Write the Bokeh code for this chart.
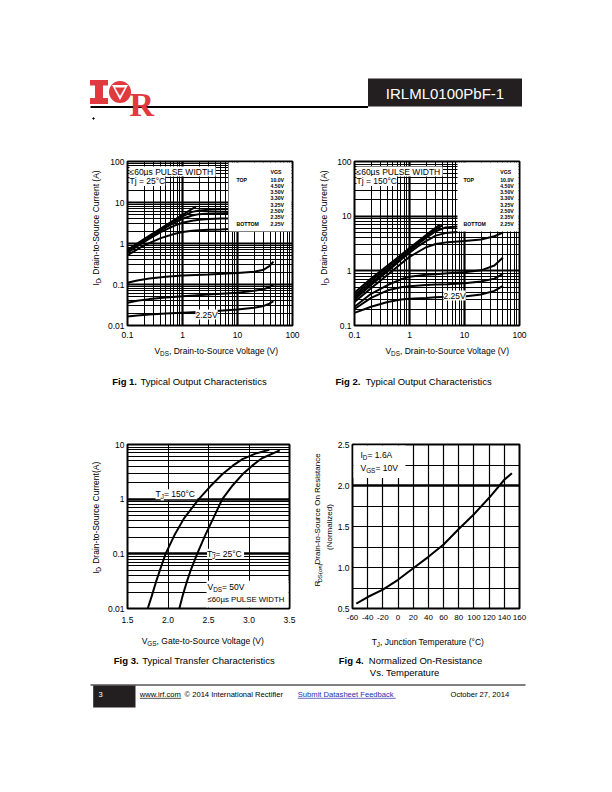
import math
from bokeh.plotting import figure
from bokeh.models import (Range1d, Label, FixedTicker, CustomJSTickFormatter,
                          NumeralTickFormatter, Span)
from bokeh.layouts import column, row
from bokeh.embed import file_html
from bokeh.resources import INLINE

FONT = "Liberation Sans"
RED = "#e03a3e"

# ---------------- data ----------------
VGS_LABELS = ["10.0V", "4.50V", "3.50V", "3.30V", "3.25V", "2.50V", "2.35V", "2.25V"]

# Fig 1, Tj = 25 C
F1_10V_VDS = [0.1, 0.2, 0.4, 0.7, 1.0, 1.4, 1.75]
F1_10V_ID = [0.70, 1.28, 2.30, 3.70, 5.00, 6.60, 7.90]
F1_HI_VDS = [0.1, 0.2, 0.4, 0.7, 1.0, 1.5, 2.0, 3.0, 5.0, 7.0]
F1_4V50_ID = [0.66, 1.22, 2.20, 3.50, 4.60, 5.90, 6.40, 6.70, 6.80, 6.85]
F1_3V50_ID = [0.63, 1.17, 2.10, 3.20, 4.00, 4.80, 5.20, 5.40, 5.50, 5.55]
F1_3V30_ID = [0.60, 1.10, 1.90, 2.70, 3.20, 3.60, 3.80, 3.95, 4.05, 4.10]
F1_3V25_ID = [0.52, 0.90, 1.35, 1.70, 1.90, 2.05, 2.10, 2.15, 2.20, 2.25]
F1_LO_VDS = [0.1, 0.15, 0.25, 0.5, 1.0, 3.0, 10.0, 20.0, 30.0, 38.0, 45.0]
F1_2V50_ID = [0.110, 0.125, 0.140, 0.155, 0.165, 0.175, 0.190, 0.205, 0.230, 0.280, 0.360]
F1_2V35_ID = [0.036, 0.040, 0.044, 0.048, 0.052, 0.057, 0.063, 0.070, 0.077, 0.086, 0.100]
F1_2V25_ID = [0.0165, 0.0175, 0.0185, 0.0195, 0.0205, 0.0220, 0.0245, 0.0270, 0.0300, 0.0340, 0.0390]

# Fig 2, Tj = 150 C
F2_10V_VDS = [0.1, 0.2, 0.4, 0.7, 1.0, 1.5, 2.0, 2.7, 3.6]
F2_10V_ID = [0.40, 0.72, 1.25, 1.95, 2.60, 3.60, 4.50, 5.70, 7.00]
F2_4V50_VDS = [0.1, 0.2, 0.4, 0.7, 1.0, 1.5, 2.0, 2.8, 3.9]
F2_4V50_ID = [0.36, 0.66, 1.15, 1.85, 2.45, 3.40, 4.30, 5.50, 6.70]
F2_MID_VDS = [0.1, 0.2, 0.4, 0.7, 1.0, 1.5, 2.0, 3.0, 4.5, 7.5]
F2_3V50_ID = [0.33, 0.60, 1.05, 1.70, 2.30, 3.20, 4.00, 5.30, 6.20, 6.50]
F2_3V30_ID = [0.30, 0.55, 0.98, 1.60, 2.15, 2.90, 3.50, 4.40, 4.90, 5.15]
F2_LO_VDS = [0.1, 0.2, 0.4, 0.7, 1.0, 2.0, 3.0, 5.0, 10.0, 20.0, 35.0, 50.0]
F2_3V25_ID = [0.27, 0.48, 0.85, 1.35, 1.80, 2.70, 3.10, 3.35, 3.50, 3.75, 4.30, 5.00]
F2_2V50_ID = [0.22, 0.38, 0.55, 0.70, 0.78, 0.85, 0.87, 0.90, 0.94, 1.02, 1.25, 1.75]
F2_2V35_ID = [0.20, 0.32, 0.44, 0.50, 0.52, 0.55, 0.56, 0.57, 0.59, 0.64, 0.72, 0.88]
F2_2V25_ID = [0.17, 0.22, 0.27, 0.30, 0.31, 0.32, 0.33, 0.335, 0.34, 0.37, 0.43, 0.53]

# Fig 3, transfer characteristics
F3_150_VGS = [1.75, 1.80, 1.85, 1.90, 1.97, 2.08, 2.20, 2.38, 2.52, 2.67, 2.80, 2.92, 3.08, 3.25]
F3_150_ID = [0.01, 0.017, 0.03, 0.05, 0.10, 0.22, 0.45, 1.0, 1.7, 2.85, 4.1, 5.4, 6.8, 8.0]
F3_25_VGS = [2.14, 2.18, 2.23, 2.28, 2.36, 2.46, 2.56, 2.67, 2.80, 2.92, 3.04, 3.16, 3.38]
F3_25_ID = [0.01, 0.017, 0.03, 0.05, 0.10, 0.22, 0.45, 1.0, 1.8, 2.85, 4.1, 5.6, 7.8]

# Fig 4, normalized on-resistance
F4_TJ = [-55, -40, -20, 0, 20, 40, 60, 80, 100, 120, 140, 150]
F4_RDS = [0.56, 0.64, 0.73, 0.85, 0.99, 1.13, 1.28, 1.47, 1.65, 1.85, 2.07, 2.15]

# tick values
LOG_TICKS_F1 = [0.01, 0.1, 1, 10, 100]
LOG_TICKS_X = [0.1, 1, 10, 100]
LOG_TICKS_F2 = [0.1, 1, 10, 100]
LOG_TICKS_F3 = [0.01, 0.1, 1, 10]
F3_X_TICKS = [1.5, 2.0, 2.5, 3.0, 3.5]
F4_X_TICKS = [-60, -40, -20, 0, 20, 40, 60, 80, 100, 120, 140, 160]
F4_Y_TICKS = [0.5, 1.0, 1.5, 2.0, 2.5]
F4_Y_MINOR = [0.75, 1.25, 1.75, 2.25]

# ---------------- helpers ----------------
AW = {' ': 278, '!': 278, '(': 333, ')': 333, ',': 278, '-': 333, '.': 278,
      ':': 278, '=': 584, '°': 400, 'µ': 556, '≤': 549, '©': 737}
for c in "0123456789":
    AW[c] = 556
for c, w in zip("ABCDEFGHIJKLMNOPQRSTUVWXYZ",
                [667, 667, 722, 722, 667, 611, 778, 722, 278, 500, 667, 556, 833,
                 722, 778, 667, 778, 722, 667, 611, 722, 667, 944, 667, 667, 611]):
    AW[c] = w
for c, w in zip("abcdefghijklmnopqrstuvwxyz",
                [556, 556, 500, 556, 556, 278, 556, 556, 222, 222, 500, 222, 833,
                 556, 556, 556, 556, 333, 500, 278, 556, 500, 722, 500, 500, 500]):
    AW[c] = w


def tw(s, size):
    return sum(AW.get(c, 556) for c in s) * size / 1000.0


def log_minors(lo_exp, hi_exp):
    return [m * 10.0 ** e for e in range(lo_exp, hi_exp) for m in range(2, 10)]


class Frame:
    def __init__(self, left, top, w, h, xr, yr, xlog, ylog):
        self.left, self.top, self.w, self.h = left, top, w, h
        self.xr, self.yr, self.xlog, self.ylog = xr, yr, xlog, ylog

    def _map(self, t, r, lg):
        a, b = r
        if lg:
            return 10 ** (math.log10(a) + t * (math.log10(b) - math.log10(a)))
        return a + t * (b - a)

    def x(self, px):
        return self._map((px - self.left) / self.w, self.xr, self.xlog)

    def y(self, py):
        return self._map((self.top + self.h - py) / self.h, self.yr, self.ylog)


def add_text(p, fr, px, py, text, size=8.5, bold=False, angle=0.0, color="black",
             bg=None, align="left", font=FONT, baseline="middle"):
    lab = Label(x=fr.x(px), y=fr.y(py), text=text, text_font=font,
                text_font_size=f"{size}px", text_align=align, text_baseline=baseline,
                text_font_style="bold" if bold else "normal", angle=angle,
                text_color=color, background_fill_color=bg)
    p.add_layout(lab)


def add_rich(p, fr, px, py, parts, size=8.5, align="left", vertical=False, bg=None):
    sub = size * 0.75
    widths = [tw(t, sub if s else size) for t, s in parts]
    s0 = -sum(widths) / 2 if align == "center" else 0.0
    for (t, s), w in zip(parts, widths):
        off = size * 0.32 if s else 0.0
        if vertical:
            add_text(p, fr, px + off, py - s0, t, size=sub if s else size,
                     angle=math.pi / 2, bg=bg)
        else:
            add_text(p, fr, px + s0, py + off, t, size=sub if s else size, bg=bg)
        s0 += w


def text_fig(x0, y0, w, h):
    p = figure(width=w, height=h, x_range=Range1d(x0, x0 + w), y_range=Range1d(y0 + h, y0),
               output_backend="svg", toolbar_location=None, min_border=0,
               x_axis_location=None, y_axis_location=None)
    p.outline_line_color = None
    p.grid.visible = False
    p.background_fill_color = "white"
    p.border_fill_color = "white"
    return p, Frame(x0, y0, w, h, (x0, x0 + w), (y0 + h, y0), False, False)


def make_chart(page_left, page_top, fig_w, fig_h, frame_left, frame_top, frame_w,
               frame_h, xr, yr, xlog, ylog):
    bl = frame_left - page_left
    bt = frame_top - page_top
    p = figure(width=fig_w, height=fig_h, x_range=Range1d(*xr), y_range=Range1d(*yr),
               x_axis_type="log" if xlog else "linear",
               y_axis_type="log" if ylog else "linear",
               output_backend="svg", toolbar_location=None,
               min_border_left=bl, min_border_right=fig_w - bl - frame_w,
               min_border_top=bt, min_border_bottom=fig_h - bt - frame_h)
    p.outline_line_color = "black"
    p.outline_line_width = 2
    p.background_fill_color = "white"
    p.border_fill_color = "white"
    for ax in (p.xaxis, p.yaxis):
        ax.axis_line_color = None
        ax.major_tick_line_color = None
        ax.minor_tick_line_color = None
        ax.major_tick_out = 0
        ax.major_tick_in = 0
        ax.minor_tick_out = 0
        ax.minor_tick_in = 0
        ax.major_label_text_font = FONT
        ax.major_label_text_font_size = "8.5px"
        ax.major_label_text_color = "black"
    p.xaxis.major_label_standoff = 6
    p.yaxis.major_label_standoff = 3
    fr = Frame(frame_left, frame_top, frame_w, frame_h, xr, yr, xlog, ylog)
    return p, fr


def style_grid(g, major_w, minor_w):
    g.grid_line_color = "black"
    g.grid_line_width = major_w
    g.grid_line_alpha = 1.0
    if minor_w:
        g.minor_grid_line_color = "black"
        g.minor_grid_line_width = minor_w


def white_box(p, fr, x0, y0, x1, y1):
    p.quad(left=[fr.x(x0)], right=[fr.x(x1)], top=[fr.y(y0)], bottom=[fr.y(y1)],
           fill_color="white", line_color=None)


LOGFMT = CustomJSTickFormatter(code="return tick.toString();")
PLAINFMT = CustomJSTickFormatter(code="return tick.toString();")

# ---------------- header (page y 0-150) ----------------
hdr, hfr = text_fig(0, 0, 612, 150)
hdr.quad(left=[94.5, 89.5, 89.5], right=[102.5, 107.5, 107.5], top=[79.5, 79.5, 97.5],
         bottom=[103.5, 85.0, 103.5], fill_color=RED, line_color=None)
hdr.circle(x=[119.5], y=[91.5], radius=11, fill_color=RED, line_color=None)
hdr.patch(x=[111.5, 127.5, 119.5], y=[84.5, 84.5, 99.5], fill_color="white", line_color=None)
hdr.patch(x=[114.5, 124.5, 119.5], y=[87, 87, 95.5], fill_color=RED, line_color=None)
add_text(hdr, hfr, 129, 103.5, "R", size=34, bold=True, color=RED,
         font="Liberation Serif", baseline="alphabetic")
hdr.quad(left=[367.5], right=[521.5], top=[78], bottom=[106], fill_color="#231f20",
         line_color=None)
add_text(hdr, hfr, 444.5, 92.5, "IRLML0100PbF-1", size=15, color="white", align="center")
hdr.segment(x0=[90], y0=[106.5], x1=[367.5], y1=[106.5], line_color="black", line_width=1.8)
hdr.scatter(x=[93], y=[118], size=1.5, color="black")

# ---------------- row A (page y 150-342) ----------------
yl1, ylf1 = text_fig(0, 150, 104, 192)
f1, fr1 = make_chart(104, 150, 202, 192, 127, 161, 165, 164, (0.1, 100), (0.01, 100), True, True)
yl2, ylf2 = text_fig(306, 150, 28, 192)
f2, fr2 = make_chart(334, 150, 278, 192, 354, 161, 165, 164, (0.1, 100), (0.1, 100), True, True)

f1.xaxis.ticker = FixedTicker(ticks=LOG_TICKS_X, minor_ticks=log_minors(-1, 2))
f1.yaxis.ticker = FixedTicker(ticks=LOG_TICKS_F1, minor_ticks=log_minors(-2, 2))
f1.xaxis.formatter = LOGFMT
f1.yaxis.formatter = LOGFMT
style_grid(f1.xgrid[0], 2.2, 1.0)
style_grid(f1.ygrid[0], 2.2, 1.0)
for xs, ys in [(F1_10V_VDS, F1_10V_ID), (F1_HI_VDS, F1_4V50_ID), (F1_HI_VDS, F1_3V50_ID),
               (F1_HI_VDS, F1_3V30_ID), (F1_HI_VDS, F1_3V25_ID), (F1_LO_VDS, F1_2V50_ID),
               (F1_LO_VDS, F1_2V35_ID), (F1_LO_VDS, F1_2V25_ID)]:
    f1.line(xs, ys, line_color="black", line_width=2)
white_box(f1, fr1, 228, 162, 291, 231)

f2.xaxis.ticker = FixedTicker(ticks=LOG_TICKS_X, minor_ticks=log_minors(-1, 2))
f2.yaxis.ticker = FixedTicker(ticks=LOG_TICKS_F2, minor_ticks=log_minors(-1, 2))
f2.xaxis.formatter = LOGFMT
f2.yaxis.formatter = LOGFMT
style_grid(f2.xgrid[0], 2.2, 1.0)
style_grid(f2.ygrid[0], 2.2, 1.0)
for xs, ys in [(F2_10V_VDS, F2_10V_ID), (F2_4V50_VDS, F2_4V50_ID), (F2_MID_VDS, F2_3V50_ID),
               (F2_MID_VDS, F2_3V30_ID), (F2_LO_VDS, F2_3V25_ID), (F2_LO_VDS, F2_2V50_ID),
               (F2_LO_VDS, F2_2V35_ID), (F2_LO_VDS, F2_2V25_ID)]:
    f2.line(xs, ys, line_color="black", line_width=2)
white_box(f2, fr2, 457, 162, 518, 231)

for p, fr, tj, vx, tx, lab225 in [(f1, fr1, "Tj = 25°C", 270, 236, (195, 314)),
                                  (f2, fr2, "Tj = 150°C", 499.7, 463, (443, 295))]:
    add_text(p, fr, fr.left + 2, 171, "≤60µs  PULSE WIDTH", bg="white")
    add_text(p, fr, fr.left + 2, 180.5, tj, bg="white")
    add_text(p, fr, vx, 171.5, "VGS", size=5.2, bold=True)
    add_text(p, fr, tx, 179, "TOP", size=5.2, bold=True)
    for i, v in enumerate(VGS_LABELS):
        add_text(p, fr, vx, 179 + i * 6.3, v, size=5.2, bold=True)
    add_text(p, fr, tx, 179 + 7 * 6.3, "BOTTOM", size=5.2, bold=True)
    add_text(p, fr, lab225[0], lab225[1], "2.25V", bg="white")

add_rich(yl1, ylf1, 95, 237, [("I", 0), ("D", 1), (", Drain-to-Source Current (A)", 0)],
         align="center", vertical=True)
add_rich(yl2, ylf2, 323, 237, [("I", 0), ("D", 1), (", Drain-to-Source Current (A)", 0)],
         align="center", vertical=True)

# ---------------- band B (page y 342-400) ----------------
bandB, bfr = text_fig(0, 342, 612, 58)
add_rich(bandB, bfr, 216, 350, [("V", 0), ("DS", 1), (", Drain-to-Source Voltage (V)", 0)],
         align="center")
add_rich(bandB, bfr, 447, 350, [("V", 0), ("DS", 1), (", Drain-to-Source Voltage (V)", 0)],
         align="center")
add_text(bandB, bfr, 111.7, 381, "Fig 1.", size=9.5, bold=True)
add_text(bandB, bfr, 140, 381, "Typical Output Characteristics", size=9.5)
add_text(bandB, bfr, 335, 381, "Fig 2.", size=9.5, bold=True)
add_text(bandB, bfr, 365, 381, "Typical Output Characteristics", size=9.5)

# ---------------- row C (page y 400-630) ----------------
yl3, ylf3 = text_fig(0, 400, 104, 230)
f3, fr3 = make_chart(104, 400, 202, 230, 127, 443, 162, 165, (1.5, 3.5), (0.01, 10), False, True)
yl4, ylf4 = text_fig(306, 400, 28, 230)
f4, fr4 = make_chart(334, 400, 278, 230, 352, 444, 167, 167, (-60, 160), (0.5, 2.5), False, False)

f3.xaxis.ticker = FixedTicker(ticks=F3_X_TICKS)
f3.xaxis.formatter = NumeralTickFormatter(format="0.0")
f3.yaxis.ticker = FixedTicker(ticks=LOG_TICKS_F3, minor_ticks=log_minors(-2, 1))
f3.yaxis.formatter = LOGFMT
f3.xaxis.major_label_standoff = 8
style_grid(f3.xgrid[0], 1.0, None)
style_grid(f3.ygrid[0], 2.5, 1.0)
f3.line(F3_150_VGS, F3_150_ID, line_color="black", line_width=2)
f3.line(F3_25_VGS, F3_25_ID, line_color="black", line_width=2)
white_box(f3, fr3, 206, 580, 288, 607)
add_rich(f3, fr3, 155, 493, [("T", 0), ("J", 1), (" = 150°C", 0)], bg="white")
add_rich(f3, fr3, 206.5, 553, [("T", 0), ("J", 1), (" = 25°C", 0)], bg="white")
add_rich(f3, fr3, 207, 586, [("V", 0), ("DS", 1), (" = 50V", 0)], bg="white")
add_text(f3, fr3, 207, 599, "≤60µs PULSE WIDTH", size=7.8, bg="white")

f4.xaxis.ticker = FixedTicker(ticks=F4_X_TICKS)
f4.xaxis.formatter = PLAINFMT
f4.xaxis.major_label_text_font_size = "8px"
f4.yaxis.ticker = FixedTicker(ticks=F4_Y_TICKS, minor_ticks=F4_Y_MINOR)
f4.yaxis.formatter = NumeralTickFormatter(format="0.0")
f4.xaxis.major_label_standoff = 6
style_grid(f4.xgrid[0], 1.2, None)
style_grid(f4.ygrid[0], 1.2, 1.2)
f4.add_layout(Span(location=2.0, dimension="width", line_color="black", line_width=2.5))
f4.line(F4_TJ, F4_RDS, line_color="black", line_width=2)
white_box(f4, fr4, 353, 445, 405, 478)
add_rich(f4, fr4, 360, 455, [("I", 0), ("D", 1), (" = 1.6A", 0)])
add_rich(f4, fr4, 360, 467.5, [("V", 0), ("GS", 1), (" = 10V", 0)])

add_rich(yl3, ylf3, 95, 524, [("I", 0), ("D", 1), (", Drain-to-Source Current(A)", 0)],
         align="center", vertical=True)
add_rich(yl4, ylf4, 317, 528, [("R", 0), ("DS(on)", 1), (" , Drain-to-Source On Resistance", 0)],
         size=8, align="center", vertical=True)
add_rich(yl4, ylf4, 328.5, 525, [("(Normalized)", 0)], size=8, align="center", vertical=True)

# ---------------- band D (page y 630-682) ----------------
bandD, dfr = text_fig(0, 630, 612, 52)
add_rich(bandD, dfr, 202.5, 640, [("V", 0), ("GS", 1), (", Gate-to-Source Voltage (V)", 0)],
         align="center")
add_rich(bandD, dfr, 429, 641.5, [("T", 0), ("J", 1), (" , Junction Temperature (°C)", 0)],
         align="center")
add_text(bandD, dfr, 113.3, 660, "Fig 3.", size=9.5, bold=True)
add_text(bandD, dfr, 141.7, 660, "Typical Transfer Characteristics", size=9.5)
add_text(bandD, dfr, 338.3, 660, "Fig 4.", size=9.5, bold=True)
add_text(bandD, dfr, 368.3, 660, "Normalized On-Resistance", size=9.5)
add_text(bandD, dfr, 369.3, 672, "Vs. Temperature", size=9.5)

# ---------------- footer (page y 682-792) ----------------
ftr, ffr = text_fig(0, 682, 612, 110)
ftr.segment(x0=[90], y0=[684.5], x1=[525], y1=[684.5], line_color="black", line_width=1)
ftr.quad(left=[92.7], right=[135], top=[685], bottom=[707], fill_color="#231f20", line_color=None)
add_text(ftr, ffr, 98, 694, "3", size=7.6, color="white")
FS = 7.6
add_text(ftr, ffr, 139.3, 694, "www.irf.com", size=FS)
ftr.segment(x0=[139.3], y0=[697.8], x1=[139.3 + tw("www.irf.com", FS)], y1=[697.8],
            line_color="black", line_width=0.7)
add_text(ftr, ffr, 184, 694, "© 2014 International Rectifier", size=FS)
add_text(ftr, ffr, 297.3, 694, "Submit  Datasheet Feedback", size=FS, color="#2b2bb0")
ftr.segment(x0=[297.3], y0=[697.8], x1=[297.3 + tw("Submit  Datasheet Feedback", FS)],
            y1=[697.8], line_color="#2b2bb0", line_width=0.7)
add_text(ftr, ffr, 450, 694, "October 27, 2014", size=FS)

page = column(hdr, row(yl1, f1, yl2, f2), bandB, row(yl3, f3, yl4, f4), bandD, ftr)
open("out.html", "w").write(file_html(page, INLINE))
